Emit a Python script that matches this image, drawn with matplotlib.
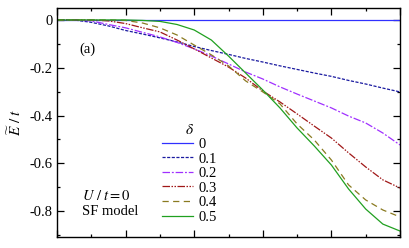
import matplotlib
matplotlib.use("Agg")
import matplotlib.pyplot as plt
from matplotlib.ticker import MultipleLocator, NullFormatter

plt.rcParams['font.family'] = ['Liberation Serif', 'DejaVu Serif']
plt.rcParams['mathtext.fontset'] = 'stix'

# x positions (arbitrary units, no labels on the axis)
x = [0.0, 0.05, 0.1, 0.15, 0.2, 0.25, 0.3, 0.35, 0.4, 0.45, 0.5,
     0.55, 0.6, 0.65, 0.7, 0.75, 0.8, 0.85, 0.9, 0.95, 1.0]

deltas = ['0', '0.1', '0.2', '0.3', '0.4', '0.5']

e_d0 = [0.0] * 21
e_d1 = [0.0, 0.0, -0.010, -0.025, -0.044, -0.059, -0.075, -0.092, -0.111, -0.128, -0.144,
        -0.161, -0.176, -0.192, -0.207, -0.222, -0.236, -0.253, -0.268, -0.285, -0.301]
e_d2 = [0.0, 0.0, -0.004, -0.019, -0.033, -0.052, -0.071, -0.094, -0.121, -0.151, -0.184,
        -0.218, -0.247, -0.280, -0.310, -0.339, -0.368, -0.402, -0.431, -0.473, -0.523]
e_d3 = [0.0, 0.0, 0.0, -0.004, -0.015, -0.033, -0.050, -0.084, -0.121, -0.159, -0.197,
        -0.243, -0.297, -0.343, -0.393, -0.444, -0.494, -0.556, -0.615, -0.669, -0.703]
e_d4 = [0.0, 0.0, 0.0, 0.0, -0.002, -0.013, -0.033, -0.063, -0.105, -0.146, -0.192,
        -0.255, -0.301, -0.351, -0.435, -0.502, -0.586, -0.690, -0.753, -0.795, -0.824]
e_d5 = [0.0, 0.0, 0.0, 0.0, 0.0, -0.002, -0.006, -0.019, -0.042, -0.084, -0.151,
        -0.222, -0.293, -0.368, -0.452, -0.527, -0.607, -0.707, -0.791, -0.854, -0.883]

series = [e_d0, e_d1, e_d2, e_d3, e_d4, e_d5]
colores = ['#3030ff', '#1a1aa0', '#a030ff', '#a01818', '#8a7a20', '#20a020']
estilos = ['-', (0, (2.5, 1.2)), (0, (6, 1.5, 1.5, 1.5)), (0, (6, 1.2, 1.2, 1.2, 1.2, 1.2)),
           (0, (5, 3.5)), '-']

fig = plt.figure(figsize=(4.09, 2.48), dpi=100)
ax = fig.add_axes([57/409, 1 - 237/248, 343/409, 229/248])

for s, c, ls, d in zip(series, colores, estilos, deltas):
    ax.plot(x, s, color=c, linestyle=ls, lw=0.9, label=d)

ax.set_xlim(0, 1)
ax.set_ylim(-0.908, 0.05)

ax.xaxis.set_major_locator(MultipleLocator(0.2))
ax.xaxis.set_minor_locator(MultipleLocator(0.1))
ax.yaxis.set_major_locator(MultipleLocator(0.2))
ax.yaxis.set_minor_locator(MultipleLocator(0.1))
ax.xaxis.set_major_formatter(NullFormatter())
ax.set_yticks([0, -0.2, -0.4, -0.6, -0.8])
ax.set_yticklabels(['0', '-0.2', '-0.4', '-0.6', '-0.8'])
ax.tick_params(which='both', direction='in', top=True, right=True, labelsize=10.5, width=0.9, pad=3)
ax.tick_params(which='major', length=5)
ax.tick_params(which='minor', length=2.5)
for sp in ax.spines.values():
    sp.set_linewidth(1.0)

ax.set_ylabel(r'$\widetilde{E}\ /\ t$', fontsize=11, labelpad=4)

ax.text(0.064, 0.805, '(a)', transform=ax.transAxes, fontsize=10.5)
ax.text(0.073, 0.16, r'$U\ /\ t = 0$', transform=ax.transAxes, fontsize=10.5)
ax.text(0.073, 0.095, 'SF model', transform=ax.transAxes, fontsize=10.5)

leg = ax.legend(title=r'$\delta$', loc='upper left', bbox_to_anchor=(0.306, 0.50),
                frameon=False, fontsize=10.5, title_fontsize=11, handlelength=2.15,
                handletextpad=0.35, labelspacing=0.09, borderpad=0, borderaxespad=0)

fig.savefig("out.png", dpi=100)
